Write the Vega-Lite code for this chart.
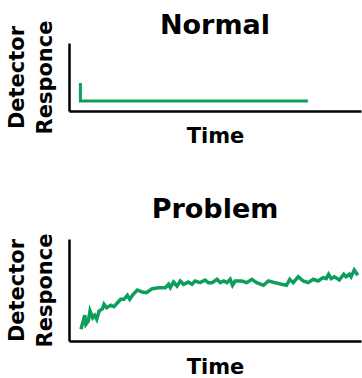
{
  "$schema": "https://vega.github.io/schema/vega-lite/v6.json",
  "padding": {"left": 6, "top": 11, "right": 0, "bottom": 0},
  "autosize": {"type": "pad"},
  "spacing": 49,
  "config": {
    "view": {"stroke": null},
    "font": "DejaVu Sans",
    "axis": {
      "domainColor": "black",
      "domainWidth": 2.5,
      "ticks": false,
      "labels": false,
      "grid": false,
      "titleFontSize": 21,
      "titleFontWeight": "bold",
      "titleColor": "black",
      "titleLineHeight": 28
    },
    "title": {"fontSize": 27, "fontWeight": "bold", "color": "black", "frame": "group"}
  },
  "datasets": {
    "normal": [
      {"t": 3.9, "r": 41.2},
      {"t": 3.9, "r": 14.7},
      {"t": 81.8, "r": 14.7}
    ],
    "problem": [
      {"t": 4.1, "r": 11.5}, {"t": 5.8, "r": 16.4}, {"t": 5.4, "r": 25.2}, {"t": 6.6, "r": 19.6},
      {"t": 7.2, "r": 29.4}, {"t": 8.1, "r": 22.8}, {"t": 8.8, "r": 25.2}, {"t": 9.5, "r": 21.3},
      {"t": 10.3, "r": 29.4}, {"t": 11.5, "r": 31.7}, {"t": 12.0, "r": 36.0}, {"t": 12.9, "r": 32.6},
      {"t": 14.3, "r": 35.0}, {"t": 15.4, "r": 33.6}, {"t": 16.6, "r": 37.5}, {"t": 17.7, "r": 40.9},
      {"t": 18.8, "r": 40.9}, {"t": 20.0, "r": 44.8}, {"t": 20.8, "r": 40.9}, {"t": 22.0, "r": 45.8},
      {"t": 23.4, "r": 50.0}, {"t": 25.1, "r": 48.0}, {"t": 26.5, "r": 47.4}, {"t": 28.5, "r": 51.3},
      {"t": 30.7, "r": 52.3}, {"t": 33.0, "r": 52.3}, {"t": 34.1, "r": 55.6}, {"t": 34.7, "r": 52.3},
      {"t": 35.8, "r": 57.8}, {"t": 37.0, "r": 53.9}, {"t": 38.1, "r": 58.8}, {"t": 39.2, "r": 55.6},
      {"t": 40.9, "r": 57.8}, {"t": 42.1, "r": 55.6}, {"t": 43.2, "r": 58.8}, {"t": 44.9, "r": 57.2},
      {"t": 46.6, "r": 59.8}, {"t": 47.7, "r": 57.2}, {"t": 49.0, "r": 57.2}, {"t": 50.7, "r": 60.5},
      {"t": 51.8, "r": 57.2}, {"t": 53.0, "r": 58.8}, {"t": 54.1, "r": 57.2}, {"t": 55.2, "r": 60.5},
      {"t": 56.0, "r": 54.6}, {"t": 56.9, "r": 58.8}, {"t": 59.2, "r": 58.8}, {"t": 60.9, "r": 57.2},
      {"t": 62.6, "r": 60.5}, {"t": 64.3, "r": 57.2}, {"t": 66.6, "r": 54.6}, {"t": 68.3, "r": 58.8},
      {"t": 70.5, "r": 57.2}, {"t": 72.8, "r": 55.6}, {"t": 74.5, "r": 54.6}, {"t": 75.6, "r": 60.5},
      {"t": 76.8, "r": 57.2}, {"t": 78.5, "r": 63.0}, {"t": 80.2, "r": 58.8}, {"t": 81.9, "r": 57.2},
      {"t": 83.6, "r": 60.5}, {"t": 85.3, "r": 58.8}, {"t": 87.0, "r": 62.1}, {"t": 88.1, "r": 61.1},
      {"t": 88.9, "r": 65.4}, {"t": 89.8, "r": 61.1}, {"t": 90.9, "r": 63.0}, {"t": 92.6, "r": 59.8},
      {"t": 94.1, "r": 65.4}, {"t": 94.9, "r": 63.0}, {"t": 96.0, "r": 65.4}, {"t": 96.6, "r": 63.0},
      {"t": 97.7, "r": 69.6}, {"t": 98.9, "r": 64.4}
    ]
  },
  "vconcat": [
    {
      "title": {"text": "Normal", "offset": -20},
      "width": 292,
      "height": 68,
      "data": {"name": "normal"},
      "mark": {"type": "line", "color": "#0d9e5c", "strokeWidth": 3},
      "encoding": {
        "x": {"field": "t", "type": "quantitative", "scale": {"domain": [0, 100]}, "title": "Time", "axis": {"titlePadding": 14}},
        "y": {"field": "r", "type": "quantitative", "scale": {"domain": [0, 100]}, "title": ["Detector", "Responce"], "axis": {"titlePadding": 14}}
      }
    },
    {
      "title": {"text": "Problem", "offset": 9},
      "width": 292,
      "height": 102,
      "data": {"name": "problem"},
      "mark": {"type": "line", "color": "#0d9e5c", "strokeWidth": 3.5},
      "encoding": {
        "x": {"field": "t", "type": "quantitative", "scale": {"domain": [0, 100]}, "title": "Time", "axis": {"titlePadding": 15}},
        "y": {"field": "r", "type": "quantitative", "scale": {"domain": [0, 100]}, "title": ["Detector", "Responce"], "axis": {"titlePadding": 14}}
      }
    }
  ]
}
